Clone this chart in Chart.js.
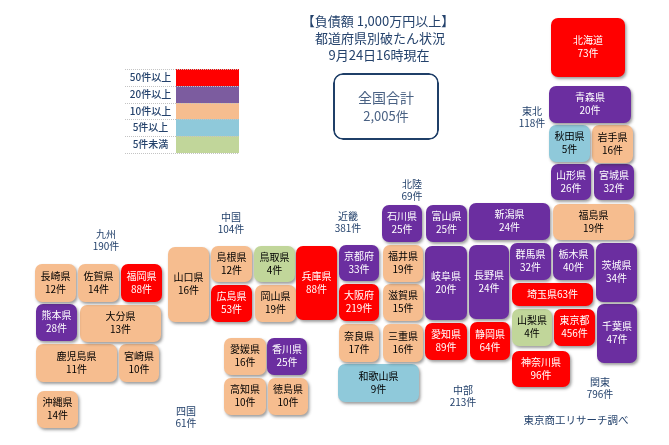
<!DOCTYPE html>
<html lang="ja">
<head>
<meta charset="utf-8">
<title>都道府県別破たん状況</title>
<script src="https://cdn.jsdelivr.net/npm/chart.js@4"></script>
<style>
  html, body { margin: 0; padding: 0; background: #fff; }
  canvas { display: block; }
</style>
</head>
<body>
<canvas id="map" width="669" height="445"></canvas>
<script>
const titleLines = ['【負債額 1,000万円以上】', '都道府県別破たん状況', '9月24日16時現在'];
const totalLabel = '全国合計';
const totalCount = '2,005件';
const sourceLabel = '東京商工リサーチ調べ';

const prefNames = ['北海道', '青森県', '秋田県', '岩手県', '山形県', '宮城県', '福島県',
  '茨城県', '栃木県', '群馬県', '埼玉県', '千葉県', '東京都', '神奈川県',
  '新潟県', '富山県', '石川県', '福井県', '山梨県', '長野県', '岐阜県', '静岡県', '愛知県',
  '三重県', '滋賀県', '京都府', '大阪府', '兵庫県', '奈良県', '和歌山県',
  '鳥取県', '島根県', '岡山県', '広島県', '山口県',
  '徳島県', '香川県', '愛媛県', '高知県',
  '福岡県', '佐賀県', '長崎県', '熊本県', '大分県', '宮崎県', '鹿児島県', '沖縄県'];
const prefCounts = [73, 20, 5, 16, 26, 32, 19,
  34, 40, 32, 63, 47, 456, 96,
  24, 25, 25, 19, 4, 24, 20, 64, 89,
  16, 15, 33, 219, 88, 17, 9,
  4, 12, 19, 53, 16,
  10, 25, 16, 10,
  88, 14, 12, 28, 13, 10, 11, 14];

const regionNames = ['東北', '北陸', '近畿', '中国', '九州', '四国', '中部', '関東'];
const regionCounts = [118, 69, 381, 104, 190, 61, 213, 796];

const legendLabels = ['50件以上', '20件以上', '10件以上', '5件以上', '5件未満'];
const legendMins = [50, 20, 10, 5, 0];
const tileColors = ['#ff0000', '#6b2ea0', '#f6bd8f', '#8fc9da', '#c1d69a'];
const legendColors = ['#ff0000', '#7c5c9f', '#f6bd8f', '#8fc9da', '#c1d69a'];
const tileTextColors = ['#ffffff', '#ffffff', '#000000', '#000000', '#000000'];

// map placement of each prefecture, same order as prefNames: [left, top, right, bottom]
const tileBounds = [
  [551, 18, 625, 77], [549, 86, 631, 123], [549, 125, 590, 162], [592, 125, 633, 163],
  [551, 164, 591, 200], [594, 164, 634, 200], [553, 204, 634, 240],
  [596, 243, 637, 302], [553, 243, 594, 280], [510, 243, 551, 280], [512, 283, 593, 306],
  [597, 304, 637, 363], [554, 309, 595, 346], [512, 351, 570, 387],
  [469, 203, 550, 240], [426, 205, 467, 242], [382, 205, 422, 242], [383, 245, 423, 282],
  [512, 309, 552, 346], [469, 245, 509, 319], [425, 246, 467, 320], [470, 322, 510, 360], [425, 323, 467, 360],
  [383, 324, 423, 362], [383, 284, 423, 321], [339, 245, 379, 281], [339, 284, 379, 321],
  [296, 246, 337, 320], [339, 324, 379, 362], [338, 364, 419, 402],
  [254, 246, 295, 282], [211, 246, 252, 282], [255, 285, 296, 322], [211, 285, 252, 322], [168, 247, 209, 322],
  [268, 378, 308, 415], [267, 338, 307, 375], [224, 338, 266, 375], [224, 378, 266, 415],
  [121, 264, 162, 302], [78, 264, 119, 302], [35, 264, 76, 302], [36, 304, 77, 341],
  [80, 305, 161, 342], [119, 344, 159, 382], [36, 344, 117, 382], [37, 391, 78, 428]
];
const legendEdges = [69, 86, 103, 119, 136, 153];
const legendLabelLeft = 125;
const legendSwatchLeft = 176;
const legendSwatchRight = 239;
const totalBox = [333, 73, 439, 140];

// region captions: [x, y of the first line]
const regionSpots = [[532, 111], [412, 184], [348, 216], [231, 217], [106, 234], [186, 411], [463, 390], [600, 382]];
const titleSpots = [[378, 21], [380, 38], [379, 55]];

const FONT = '"Noto Sans CJK JP", "Noto Sans", sans-serif';
const NAVY = '#24426c';

function levelOf(count) {
  return legendMins.findIndex(m => count >= m);
}

function rectDataset(b, color, extra) {
  return Object.assign({
    data: [{ x: (b[0] + b[2]) / 2, y: [b[1], b[3]] }],
    barThickness: b[2] - b[0],
    backgroundColor: color,
    grouped: false,
    borderSkipped: false,
    inflateAmount: 0
  }, extra);
}

const tileSets = tileBounds.map((b, i) => rectDataset(b, tileColors[levelOf(prefCounts[i])], {
  borderRadius: 7,
  tile: true
}));

const legendSets = legendLabels.map((label, i) => rectDataset(
  [legendSwatchLeft, legendEdges[i], legendSwatchRight, legendEdges[i + 1]],
  legendColors[i],
  { borderRadius: 0 }
));

const boxSet = rectDataset(totalBox, '#ffffff', {
  borderColor: '#1f3f68',
  borderWidth: 2,
  borderRadius: 10
});

function putText(ctx, text, x, y, size, color, weight) {
  ctx.font = (weight || 400) + ' ' + size + 'px ' + FONT;
  ctx.fillStyle = color;
  ctx.fillText(text, x, y);
}

const tileShadow = {
  id: 'tileShadow',
  beforeDatasetDraw(chart, args) {
    if (!chart.data.datasets[args.index].tile) return;
    const ctx = chart.ctx;
    ctx.save();
    ctx.shadowColor = 'rgba(40,40,40,0.45)';
    ctx.shadowBlur = 3;
    ctx.shadowOffsetX = 1.5;
    ctx.shadowOffsetY = 2;
  },
  afterDatasetDraw(chart, args) {
    if (chart.data.datasets[args.index].tile) chart.ctx.restore();
  }
};

const mapText = {
  id: 'mapText',
  afterDatasetsDraw(chart) {
    const ctx = chart.ctx;
    const xs = chart.scales.x;
    const ys = chart.scales.y;
    ctx.save();
    ctx.textAlign = 'center';
    ctx.textBaseline = 'middle';

    titleLines.forEach((line, i) => {
      putText(ctx, line, xs.getPixelForValue(titleSpots[i][0]), ys.getPixelForValue(titleSpots[i][1]), 13, NAVY);
    });

    const boxMid = (totalBox[0] + totalBox[2]) / 2;
    putText(ctx, totalLabel, xs.getPixelForValue(boxMid), ys.getPixelForValue(98), 14, '#4a6284');
    putText(ctx, totalCount, xs.getPixelForValue(boxMid), ys.getPixelForValue(116), 13, '#4a6284');

    // legend rows: dotted rules and labels
    ctx.strokeStyle = '#c4c4c4';
    ctx.lineWidth = 1;
    ctx.setLineDash([1, 1]);
    legendEdges.forEach(edge => {
      const y = Math.round(ys.getPixelForValue(edge)) + 0.5;
      ctx.beginPath();
      ctx.moveTo(xs.getPixelForValue(legendLabelLeft), y);
      ctx.lineTo(xs.getPixelForValue(legendSwatchRight), y);
      ctx.stroke();
    });
    ctx.setLineDash([]);
    legendLabels.forEach((label, i) => {
      const midY = (legendEdges[i] + legendEdges[i + 1]) / 2;
      putText(ctx, label, xs.getPixelForValue((legendLabelLeft + legendSwatchLeft) / 2), ys.getPixelForValue(midY), 10, NAVY, 500);
    });

    prefNames.forEach((name, i) => {
      const b = tileBounds[i];
      const color = tileTextColors[levelOf(prefCounts[i])];
      const cx = xs.getPixelForValue((b[0] + b[2]) / 2);
      const cy = ys.getPixelForValue((b[1] + b[3]) / 2);
      if (b[3] - b[1] < 30) {
        putText(ctx, name + prefCounts[i] + '件', cx, cy, 10, color);
      } else {
        putText(ctx, name, cx, cy - 7, 10, color);
        putText(ctx, prefCounts[i] + '件', cx, cy + 6, 10, color);
      }
    });

    regionNames.forEach((name, i) => {
      const x = xs.getPixelForValue(regionSpots[i][0]);
      const y = ys.getPixelForValue(regionSpots[i][1]);
      putText(ctx, name, x, y, 10, NAVY);
      putText(ctx, regionCounts[i] + '件', x, y + 12.5, 10, NAVY);
    });

    putText(ctx, sourceLabel, xs.getPixelForValue(576), ys.getPixelForValue(420), 10.5, NAVY);
    ctx.restore();
  }
};

new Chart(document.getElementById('map'), {
  type: 'bar',
  data: { datasets: [boxSet, ...legendSets, ...tileSets] },
  options: {
    responsive: false,
    animation: false,
    devicePixelRatio: 1,
    layout: { padding: 0 },
    plugins: {
      legend: { display: false },
      tooltip: { enabled: false }
    },
    scales: {
      x: { type: 'linear', min: 0, max: 669, offset: false, display: false },
      y: { type: 'linear', min: 0, max: 445, reverse: true, display: false }
    }
  },
  plugins: [tileShadow, mapText]
});
</script>
</body>
</html>
